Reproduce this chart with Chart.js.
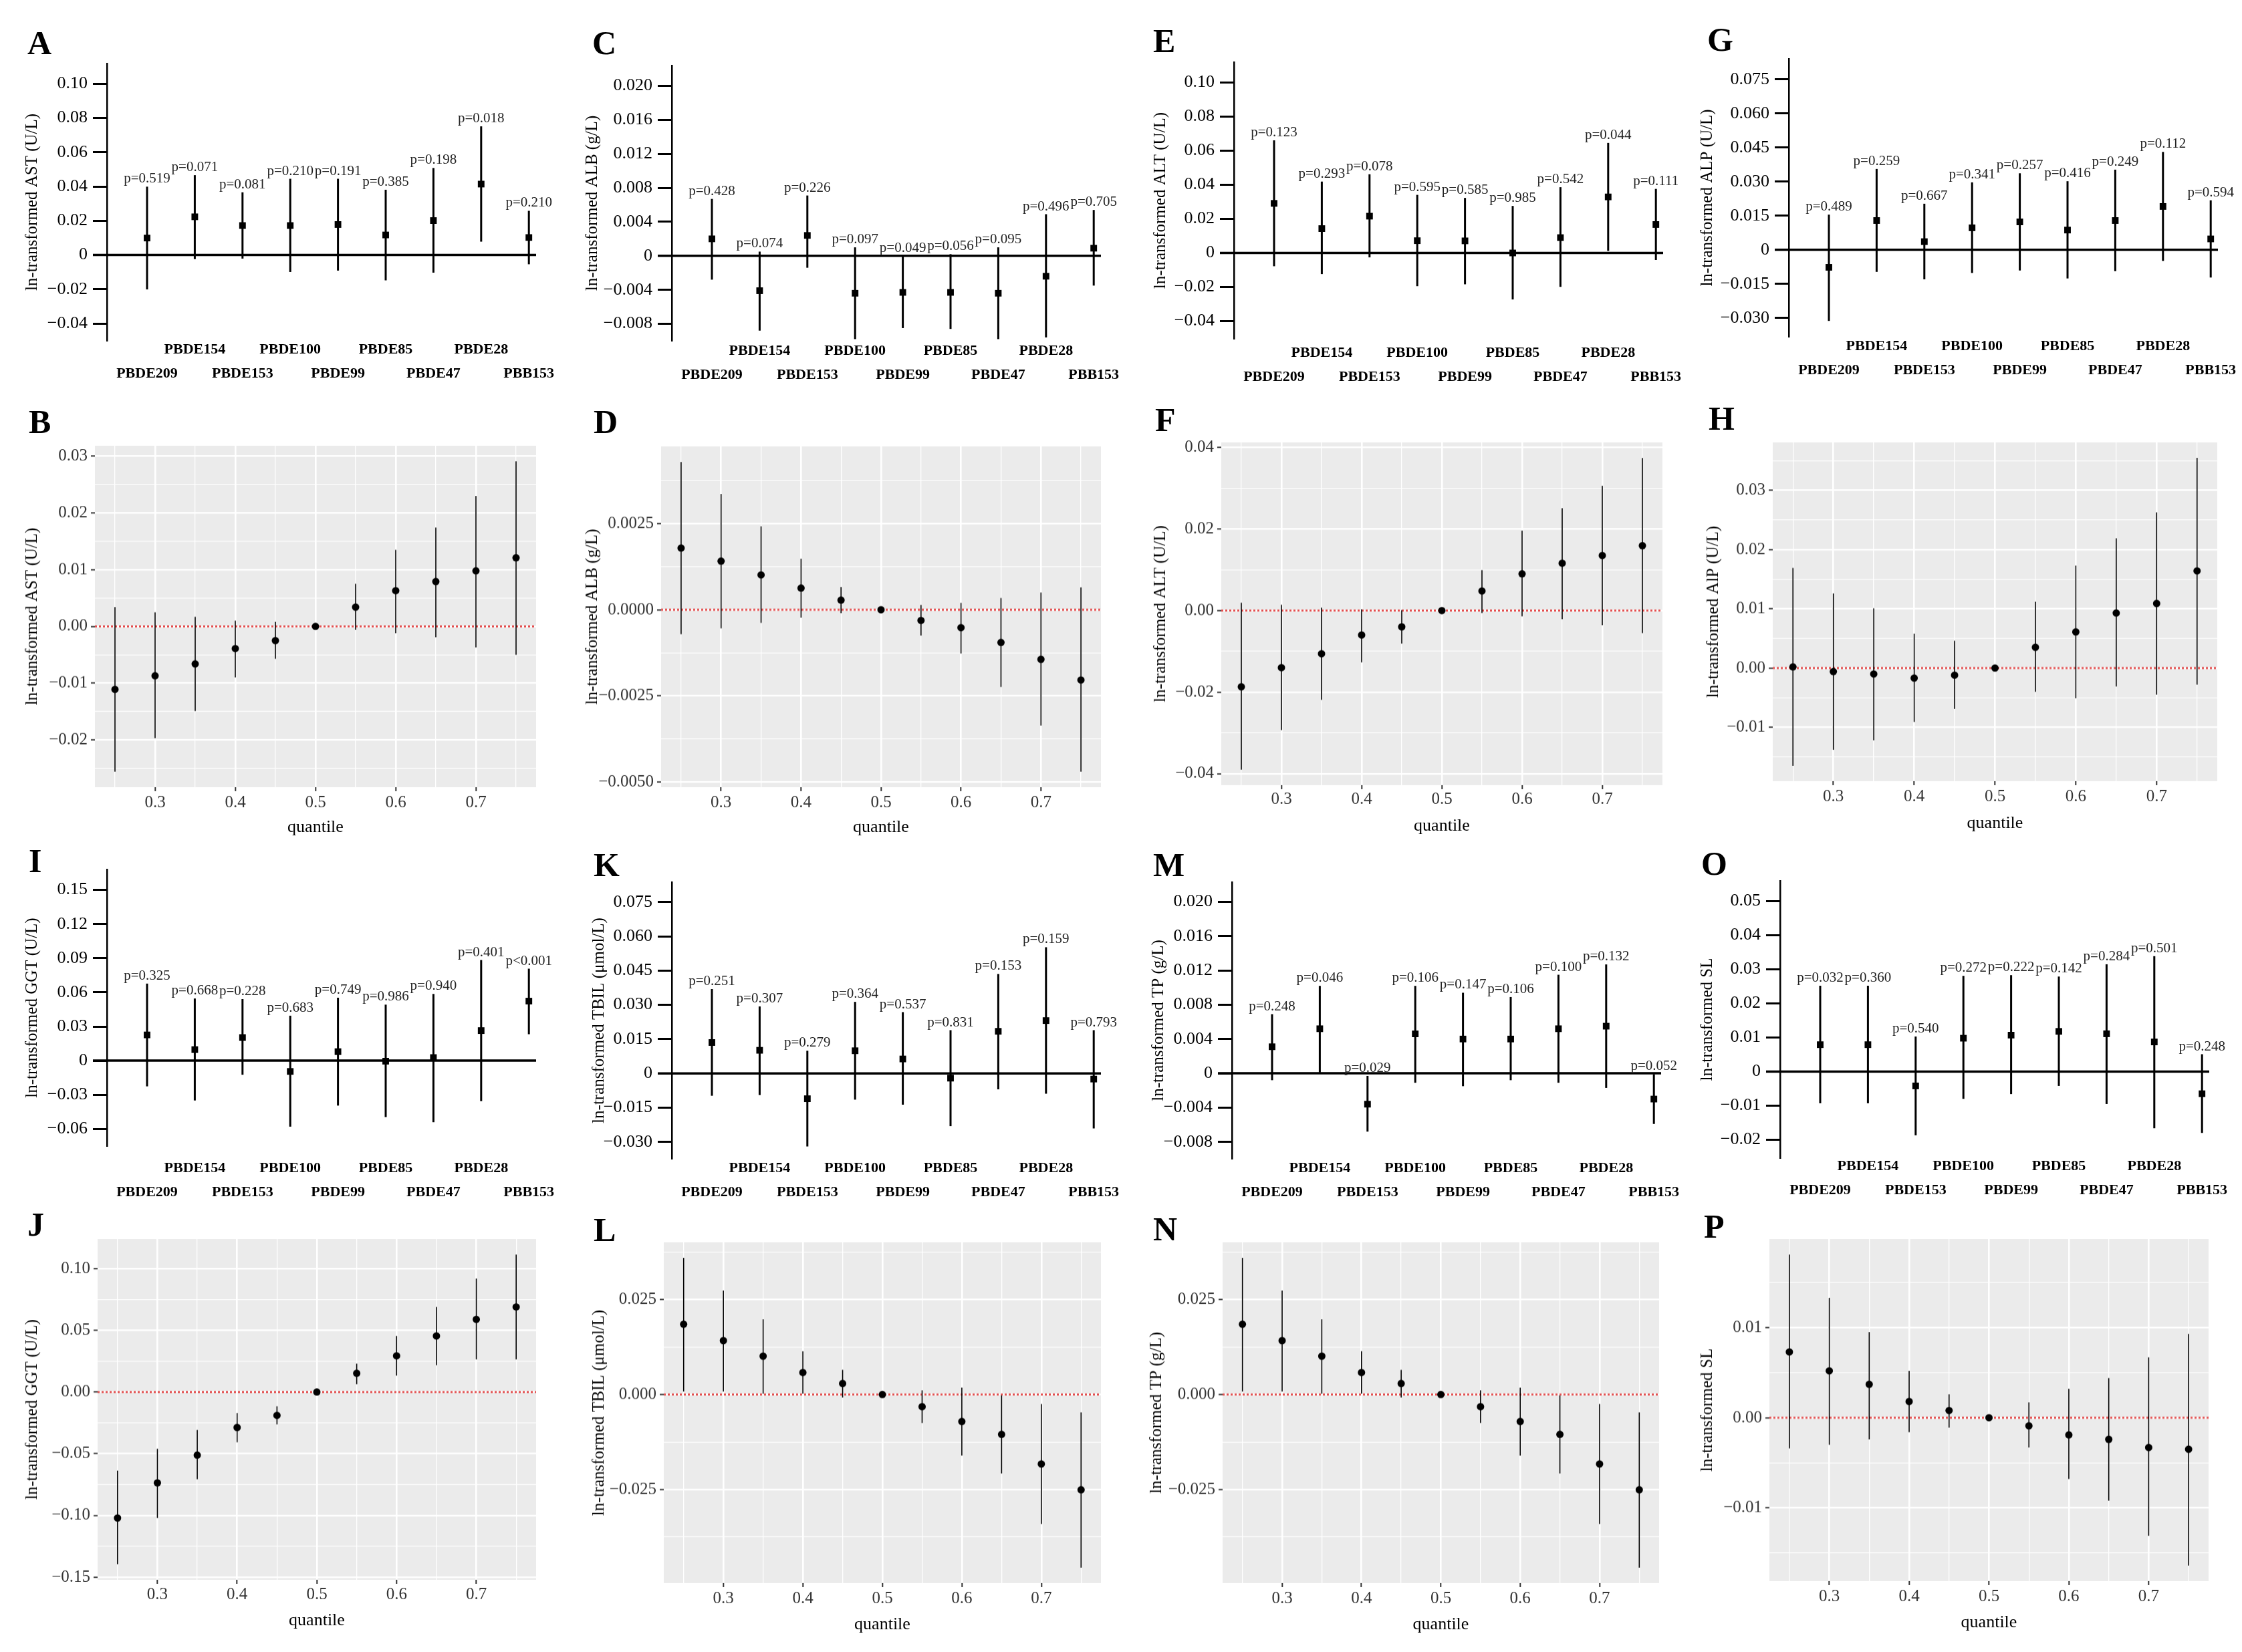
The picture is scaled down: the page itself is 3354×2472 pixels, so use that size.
<!DOCTYPE html>
<html lang="en">
<head>
<meta charset="UTF-8">
<title>PBDE exposure and liver function</title>
<script src="https://cdn.jsdelivr.net/npm/chart.js"></script>
<style>
  html, body { margin: 0; padding: 0; background: #fff; }
  body { width: 3354px; height: 2472px; position: relative; overflow: hidden;
         font-family: 'Liberation Serif', 'Times New Roman', serif; }
  .panel { position: absolute; }
  .letter { position: absolute; font-weight: bold; font-size: 50px; line-height: 50px; color: #000; }
</style>
</head>
<body>
<div id="figure"></div>
<script>
// ---------- data ----------
const compounds = ['PBDE209', 'PBDE154', 'PBDE153', 'PBDE100', 'PBDE99', 'PBDE85', 'PBDE47', 'PBDE28', 'PBB153'];
const quantiles = [0.25, 0.30, 0.35, 0.40, 0.45, 0.50, 0.55, 0.60, 0.65, 0.70, 0.75];
const quantileTicks = [0.3, 0.4, 0.5, 0.6, 0.7];
const quantileTickLabels = ['0.3', '0.4', '0.5', '0.6', '0.7'];

// single-exposure estimates (forest panels A C E G I K M O)
const astEst = [0.0099, 0.0223, 0.0172, 0.0172, 0.0178, 0.0117, 0.0201, 0.0414, 0.0102];
const astLo  = [-0.0201, -0.0024, -0.0021, -0.0099, -0.0091, -0.0148, -0.0103, 0.0078, -0.0054];
const astHi  = [0.0399, 0.0466, 0.0366, 0.0445, 0.0445, 0.0381, 0.0508, 0.0751, 0.0258];
const astP   = ['p=0.519', 'p=0.071', 'p=0.081', 'p=0.210', 'p=0.191', 'p=0.385', 'p=0.198', 'p=0.018', 'p=0.210'];
const astTicks = [-0.04, -0.02, 0, 0.02, 0.04, 0.06, 0.08, 0.10];
const astTickLabels = ['−0.04', '−0.02', '0', '0.02', '0.04', '0.06', '0.08', '0.10'];

const albEst = [0.0020, -0.0041, 0.0024, -0.0044, -0.0043, -0.0043, -0.0044, -0.0024, 0.0009];
const albLo  = [-0.0028, -0.0088, -0.0014, -0.0098, -0.0085, -0.0086, -0.0098, -0.0096, -0.0035];
const albHi  = [0.0067, 0.0005, 0.0071, 0.0010, 0.0000, 0.0002, 0.0010, 0.0049, 0.0054];
const albP   = ['p=0.428', 'p=0.074', 'p=0.226', 'p=0.097', 'p=0.049', 'p=0.056', 'p=0.095', 'p=0.496', 'p=0.705'];
const albTicks = [-0.008, -0.004, 0, 0.004, 0.008, 0.012, 0.016, 0.020];
const albTickLabels = ['−0.008', '−0.004', '0', '0.004', '0.008', '0.012', '0.016', '0.020'];

const altEst = [0.0291, 0.0143, 0.0216, 0.0072, 0.0071, 0.0000, 0.0090, 0.0329, 0.0167];
const altLo  = [-0.0078, -0.0124, -0.0026, -0.0195, -0.0184, -0.0273, -0.0199, 0.0012, -0.0041];
const altHi  = [0.0661, 0.0419, 0.0462, 0.0341, 0.0323, 0.0276, 0.0386, 0.0646, 0.0376];
const altP   = ['p=0.123', 'p=0.293', 'p=0.078', 'p=0.595', 'p=0.585', 'p=0.985', 'p=0.542', 'p=0.044', 'p=0.111'];
const altTicks = [-0.04, -0.02, 0, 0.02, 0.04, 0.06, 0.08, 0.10];
const altTickLabels = ['−0.04', '−0.02', '0', '0.02', '0.04', '0.06', '0.08', '0.10'];

const alpEst = [-0.0077, 0.0129, 0.0036, 0.0097, 0.0123, 0.0087, 0.0129, 0.0191, 0.0048];
const alpLo  = [-0.0313, -0.0097, -0.0130, -0.0102, -0.0091, -0.0126, -0.0094, -0.0049, -0.0122];
const alpHi  = [0.0155, 0.0356, 0.0203, 0.0297, 0.0337, 0.0302, 0.0353, 0.0431, 0.0218];
const alpP   = ['p=0.489', 'p=0.259', 'p=0.667', 'p=0.341', 'p=0.257', 'p=0.416', 'p=0.249', 'p=0.112', 'p=0.594'];
const alpTicks = [-0.030, -0.015, 0, 0.015, 0.030, 0.045, 0.060, 0.075];
const alpTickLabels = ['−0.030', '−0.015', '0', '0.015', '0.030', '0.045', '0.060', '0.075'];

const ggtEst = [0.0226, 0.0097, 0.0203, -0.0095, 0.0079, -0.0005, 0.0027, 0.0264, 0.0523];
const ggtLo  = [-0.0226, -0.0350, -0.0124, -0.0580, -0.0395, -0.0496, -0.0541, -0.0356, 0.0232];
const ggtHi  = [0.0677, 0.0546, 0.0541, 0.0395, 0.0553, 0.0492, 0.0586, 0.0884, 0.0808];
const ggtP   = ['p=0.325', 'p=0.668', 'p=0.228', 'p=0.683', 'p=0.749', 'p=0.986', 'p=0.940', 'p=0.401', 'p<0.001'];
const ggtTicks = [-0.06, -0.03, 0, 0.03, 0.06, 0.09, 0.12, 0.15];
const ggtTickLabels = ['−0.06', '−0.03', '0', '0.03', '0.06', '0.09', '0.12', '0.15'];

const tbilEst = [0.0135, 0.0101, -0.0111, 0.0099, 0.0063, -0.0021, 0.0184, 0.0231, -0.0025];
const tbilLo  = [-0.0098, -0.0095, -0.0320, -0.0115, -0.0137, -0.0231, -0.0070, -0.0089, -0.0241];
const tbilHi  = [0.0369, 0.0293, 0.0099, 0.0313, 0.0268, 0.0189, 0.0435, 0.0552, 0.0189];
const tbilP   = ['p=0.251', 'p=0.307', 'p=0.279', 'p=0.364', 'p=0.537', 'p=0.831', 'p=0.153', 'p=0.159', 'p=0.793'];
const tbilTicks = [-0.030, -0.015, 0, 0.015, 0.030, 0.045, 0.060, 0.075];
const tbilTickLabels = ['−0.030', '−0.015', '0', '0.015', '0.030', '0.045', '0.060', '0.075'];

const tpEst = [0.0031, 0.0052, -0.0036, 0.0046, 0.0040, 0.0040, 0.0052, 0.0055, -0.0030];
const tpLo  = [-0.0008, 0.0001, -0.0068, -0.0011, -0.0015, -0.0008, -0.0011, -0.0017, -0.0059];
const tpHi  = [0.0069, 0.0102, -0.0003, 0.0102, 0.0094, 0.0089, 0.0115, 0.0127, -0.0001];
const tpP   = ['p=0.248', 'p=0.046', 'p=0.029', 'p=0.106', 'p=0.147', 'p=0.106', 'p=0.100', 'p=0.132', 'p=0.052'];
const tpTicks = [-0.008, -0.004, 0, 0.004, 0.008, 0.012, 0.016, 0.020];
const tpTickLabels = ['−0.008', '−0.004', '0', '0.004', '0.008', '0.012', '0.016', '0.020'];

const slEst = [0.0079, 0.0079, -0.0042, 0.0098, 0.0107, 0.0118, 0.0111, 0.0087, -0.0065];
const slLo  = [-0.0093, -0.0093, -0.0187, -0.0080, -0.0066, -0.0042, -0.0095, -0.0166, -0.0180];
const slHi  = [0.0252, 0.0252, 0.0103, 0.0281, 0.0283, 0.0279, 0.0315, 0.0339, 0.0051];
const slP   = ['p=0.032', 'p=0.360', 'p=0.540', 'p=0.272', 'p=0.222', 'p=0.142', 'p=0.284', 'p=0.501', 'p=0.248'];
const slTicks = [-0.02, -0.01, 0, 0.01, 0.02, 0.03, 0.04, 0.05];
const slTickLabels = ['−0.02', '−0.01', '0', '0.01', '0.02', '0.03', '0.04', '0.05'];

// mixture quantile estimates (panels B D F H J L N P)
const astQEst = [-0.0111, -0.0087, -0.0066, -0.0039, -0.0025, 0, 0.0034, 0.0063, 0.0079, 0.0098, 0.0121];
const astQLo  = [-0.0256, -0.0197, -0.0149, -0.0090, -0.0057, 0, -0.0006, -0.0012, -0.0019, -0.0037, -0.0050];
const astQHi  = [0.0034, 0.0025, 0.0017, 0.0010, 0.0008, 0, 0.0075, 0.0135, 0.0174, 0.0230, 0.0291];
const astQTicks = [-0.02, -0.01, 0, 0.01, 0.02, 0.03];
const astQTickLabels = ['−0.02', '−0.01', '0.00', '0.01', '0.02', '0.03'];

const albQEst = [0.00179, 0.00141, 0.00101, 0.00063, 0.00028, 0, -0.00031, -0.00052, -0.00095, -0.00144, -0.00204];
const albQLo  = [-0.00071, -0.00054, -0.00038, -0.00023, -0.00010, 0, -0.00075, -0.00127, -0.00224, -0.00336, -0.00470];
const albQHi  = [0.00429, 0.00336, 0.00242, 0.00148, 0.00066, 0, 0.00014, 0.00020, 0.00034, 0.00050, 0.00065];
const albQTicks = [-0.005, -0.0025, 0, 0.0025];
const albQTickLabels = ['−0.0050', '−0.0025', '0.0000', '0.0025'];

const altQEst = [-0.0187, -0.0140, -0.0106, -0.0060, -0.0040, 0, 0.0048, 0.0090, 0.0116, 0.0135, 0.0159];
const altQLo  = [-0.0390, -0.0293, -0.0219, -0.0127, -0.0081, 0, -0.0006, -0.0014, -0.0021, -0.0036, -0.0055];
const altQHi  = [0.0019, 0.0014, 0.0007, 0.0003, 0.0001, 0, 0.0099, 0.0196, 0.0251, 0.0306, 0.0374];
const altQTicks = [-0.04, -0.02, 0, 0.02, 0.04];
const altQTickLabels = ['−0.04', '−0.02', '0.00', '0.02', '0.04'];

const alpQEst = [0.0002, -0.0006, -0.0010, -0.0017, -0.0012, 0, 0.0035, 0.0061, 0.0093, 0.0109, 0.0164];
const alpQLo  = [-0.0165, -0.0138, -0.0122, -0.0091, -0.0069, 0, -0.0040, -0.0051, -0.0031, -0.0045, -0.0028];
const alpQHi  = [0.0169, 0.0126, 0.0101, 0.0058, 0.0046, 0, 0.0112, 0.0173, 0.0219, 0.0263, 0.0355];
const alpQTicks = [-0.01, 0, 0.01, 0.02, 0.03];
const alpQTickLabels = ['−0.01', '0.00', '0.01', '0.02', '0.03'];

const ggtQEst = [-0.1021, -0.0736, -0.0511, -0.0287, -0.0189, 0, 0.0152, 0.0294, 0.0455, 0.0589, 0.0690];
const ggtQLo  = [-0.1396, -0.1021, -0.0706, -0.0407, -0.0262, 0, 0.0064, 0.0133, 0.0218, 0.0265, 0.0265];
const ggtQHi  = [-0.0637, -0.0460, -0.0308, -0.0170, -0.0115, 0, 0.0230, 0.0455, 0.0690, 0.0920, 0.1115];
const ggtQTicks = [-0.15, -0.10, -0.05, 0, 0.05, 0.10];
const ggtQTickLabels = ['−0.15', '−0.10', '−0.05', '0.00', '0.05', '0.10'];

const tbilQEst = [0.0185, 0.0142, 0.0101, 0.0058, 0.0029, 0, -0.0032, -0.0071, -0.0105, -0.0183, -0.0251];
const tbilQLo  = [0.0008, 0.0008, 0.0002, 0.0000, -0.0008, 0, -0.0075, -0.0161, -0.0208, -0.0341, -0.0456];
const tbilQHi  = [0.0360, 0.0274, 0.0198, 0.0114, 0.0065, 0, 0.0011, 0.0018, 0.0000, -0.0025, -0.0047];
const tbilQTicks = [-0.025, 0, 0.025];
const tbilQTickLabels = ['−0.025', '0.000', '0.025'];

const tpQEst = [0.0185, 0.0142, 0.0101, 0.0058, 0.0029, 0, -0.0032, -0.0071, -0.0105, -0.0183, -0.0251];
const tpQLo  = [0.0008, 0.0008, 0.0002, 0.0000, -0.0008, 0, -0.0075, -0.0161, -0.0208, -0.0341, -0.0456];
const tpQHi  = [0.0360, 0.0274, 0.0198, 0.0114, 0.0065, 0, 0.0011, 0.0018, 0.0000, -0.0025, -0.0047];
const tpQTicks = [-0.025, 0, 0.025];
const tpQTickLabels = ['−0.025', '0.000', '0.025'];

const slQEst = [0.0073, 0.0052, 0.0037, 0.0018, 0.0008, 0, -0.0009, -0.0019, -0.0024, -0.0033, -0.0035];
const slQLo  = [-0.0034, -0.0030, -0.0024, -0.0016, -0.0011, 0, -0.0033, -0.0068, -0.0092, -0.0131, -0.0164];
const slQHi  = [0.0181, 0.0133, 0.0095, 0.0052, 0.0026, 0, 0.0017, 0.0032, 0.0044, 0.0067, 0.0093];
const slQTicks = [-0.01, 0, 0.01];
const slQTickLabels = ['−0.01', '0.00', '0.01'];

// ---------- layout ----------
const PAGE_W = 3354;
const PAD_TOP = 20;
const PAD_RIGHT = 40;
const CAT_STEP = 71.4;      // px between compounds
const FIRST_OFFSET = 60;    // px from y axis to first compound
const P_GAP = 6;            // p label baseline above CI top

Chart.defaults.font.family = "'Liberation Serif', 'Times New Roman', serif";
Chart.defaults.color = '#000';

const forestPanels = [
  { title: 'ln-transformed AST (U/L)', est: astEst, lo: astLo, hi: astHi, p: astP, ticks: astTicks, tickLabels: astTickLabels,
    yMin: -0.0501, yMax: 0.1118, box: { l: 160, t: 95, r: 802, b: 510 }, titleX: 48, catY: 523 },
  { title: 'ln-transformed ALB (g/L)', est: albEst, lo: albLo, hi: albHi, p: albP, ticks: albTicks, tickLabels: albTickLabels,
    yMin: -0.0100, yMax: 0.0224, box: { l: 1005, t: 98, r: 1647, b: 510 }, titleX: 886, catY: 525 },
  { title: 'ln-transformed ALT (U/L)', est: altEst, lo: altLo, hi: altHi, p: altP, ticks: altTicks, tickLabels: altTickLabels,
    yMin: -0.0504, yMax: 0.1120, box: { l: 1846, t: 93, r: 2488, b: 507 }, titleX: 1736, catY: 528 },
  { title: 'ln-transformed ALP (U/L)', est: alpEst, lo: alpLo, hi: alpHi, p: alpP, ticks: alpTicks, tickLabels: alpTickLabels,
    yMin: -0.0383, yMax: 0.0841, box: { l: 2676, t: 88, r: 3318, b: 504 }, titleX: 2554, catY: 518 },
  { title: 'ln-transformed GGT (U/L)', est: ggtEst, lo: ggtLo, hi: ggtHi, p: ggtP, ticks: ggtTicks, tickLabels: ggtTickLabels,
    yMin: -0.0751, yMax: 0.1680, box: { l: 160, t: 1301, r: 802, b: 1715 }, titleX: 48, catY: 1748 },
  { title: 'ln-transformed TBIL (μmol/L)', est: tbilEst, lo: tbilLo, hi: tbilHi, p: tbilP, ticks: tbilTicks, tickLabels: tbilTickLabels,
    yMin: -0.0374, yMax: 0.0837, box: { l: 1005, t: 1320, r: 1647, b: 1734 }, titleX: 896, catY: 1748 },
  { title: 'ln-transformed TP (g/L)', est: tpEst, lo: tpLo, hi: tpHi, p: tpP, ticks: tpTicks, tickLabels: tpTickLabels,
    yMin: -0.00997, yMax: 0.0223, box: { l: 1843, t: 1320, r: 2485, b: 1734 }, titleX: 1733, catY: 1748 },
  { title: 'ln-transformed SL', est: slEst, lo: slLo, hi: slHi, p: slP, ticks: slTicks, tickLabels: slTickLabels,
    yMin: -0.0254, yMax: 0.0560, box: { l: 2663, t: 1318, r: 3305, b: 1733 }, titleX: 2554, catY: 1745 }
];

const quantilePanels = [
  { title: 'ln-transformed AST (U/L)', est: astQEst, lo: astQLo, hi: astQHi, ticks: astQTicks, tickLabels: astQTickLabels,
    box: { l: 142, t: 667, r: 802, b: 1177 }, titleX: 48, tickY: 1200, xTitleY: 1237 },
  { title: 'ln-transformed ALB (g/L)', est: albQEst, lo: albQLo, hi: albQHi, ticks: albQTicks, tickLabels: albQTickLabels,
    box: { l: 989, t: 668, r: 1647, b: 1177 }, titleX: 886, tickY: 1200, xTitleY: 1237 },
  { title: 'ln-transformed ALT (U/L)', est: altQEst, lo: altQLo, hi: altQHi, ticks: altQTicks, tickLabels: altQTickLabels,
    box: { l: 1827, t: 662, r: 2487, b: 1174 }, titleX: 1736, tickY: 1195, xTitleY: 1235 },
  { title: 'ln-transformed AlP (U/L)', est: alpQEst, lo: alpQLo, hi: alpQHi, ticks: alpQTicks, tickLabels: alpQTickLabels,
    box: { l: 2652, t: 662, r: 3317, b: 1168 }, titleX: 2563, tickY: 1191, xTitleY: 1231 },
  { title: 'ln-transformed GGT (U/L)', est: ggtQEst, lo: ggtQLo, hi: ggtQHi, ticks: ggtQTicks, tickLabels: ggtQTickLabels,
    box: { l: 146, t: 1854, r: 802, b: 2363 }, titleX: 48, tickY: 2385, xTitleY: 2424 },
  { title: 'ln-transformed TBIL (μmol/L)', est: tbilQEst, lo: tbilQLo, hi: tbilQHi, ticks: tbilQTicks, tickLabels: tbilQTickLabels,
    box: { l: 993, t: 1859, r: 1647, b: 2368 }, titleX: 896, tickY: 2391, xTitleY: 2430 },
  { title: 'ln-transformed TP (g/L)', est: tpQEst, lo: tpQLo, hi: tpQHi, ticks: tpQTicks, tickLabels: tpQTickLabels,
    box: { l: 1829, t: 1859, r: 2482, b: 2368 }, titleX: 1730, tickY: 2391, xTitleY: 2430 },
  { title: 'ln-transformed SL', est: slQEst, lo: slQLo, hi: slQHi, ticks: slQTicks, tickLabels: slQTickLabels,
    box: { l: 2647, t: 1854, r: 3304, b: 2365 }, titleX: 2554, tickY: 2388, xTitleY: 2427 }
];

// panel letters: [text, left, cap centre y]
const letters = [
  ['A', 41, 64], ['C', 886, 64], ['E', 1725, 61], ['G', 2554, 59],
  ['B', 43, 631], ['D', 888, 631], ['F', 1728, 628], ['H', 2556, 626],
  ['I', 43, 1288], ['K', 888, 1294], ['M', 1725, 1294], ['O', 2545, 1292],
  ['J', 41, 1832], ['L', 888, 1840], ['N', 1725, 1839], ['P', 2549, 1835]
];

const figure = document.getElementById('figure');

letters.forEach(([txt, x, cy]) => {
  const d = document.createElement('div');
  d.className = 'letter';
  d.textContent = txt;
  d.style.left = x + 'px';
  d.style.top = (cy - 25) + 'px';
  figure.appendChild(d);
});

// container sized so the chart area lands on box
function makeCanvas(box, titleX, xH) {
  const cl = titleX - 15;   // y title centre = left + lineHeight/2
  const ct = box.t - PAD_TOP;
  const cr = Math.min(box.r + PAD_RIGHT, PAGE_W);
  const div = document.createElement('div');
  div.className = 'panel';
  div.style.left = cl + 'px';
  div.style.top = ct + 'px';
  div.style.width = (cr - cl) + 'px';
  div.style.height = (box.b - ct + xH) + 'px';
  const canvas = document.createElement('canvas');
  div.appendChild(canvas);
  figure.appendChild(div);
  return { canvas, yW: box.l - cl, padRight: cr - box.r };
}

function forestChart(p) {
  const xH = 100;
  const { canvas, yW, padRight } = makeCanvas(p.box, p.titleX, xH);
  const idx = compounds.map((c, i) => i);
  const xMin = -FIRST_OFFSET / CAT_STEP;
  const xMax = xMin + (p.box.r - p.box.l) / CAT_STEP;

  const forestDecor = {
    id: 'forestDecor',
    beforeDatasetsDraw(chart) {
      const { ctx, chartArea, scales } = chart;
      const y0 = scales.y.getPixelForValue(0);
      ctx.save();
      ctx.strokeStyle = '#000';
      ctx.lineWidth = 3.5;
      ctx.beginPath();
      ctx.moveTo(chartArea.left - 21, y0);
      ctx.lineTo(chartArea.right, y0);
      ctx.stroke();
      ctx.restore();
    },
    afterDatasetsDraw(chart) {
      const { ctx, scales } = chart;
      ctx.save();
      ctx.font = "21px 'Liberation Serif', 'Times New Roman', serif";
      ctx.fillStyle = '#222';
      ctx.textAlign = 'center';
      ctx.textBaseline = 'alphabetic';
      p.p.forEach((txt, i) => {
        ctx.fillText(txt, scales.x.getPixelForValue(i), scales.y.getPixelForValue(p.hi[i]) - P_GAP);
      });
      ctx.restore();
    }
  };

  new Chart(canvas, {
    type: 'bar',
    data: {
      datasets: [
        { type: 'bar', data: idx.map(i => ({ x: i, y: [p.lo[i], p.hi[i]] })),
          backgroundColor: '#000', borderWidth: 0, barThickness: 3, inflateAmount: 0, grouped: false },
        { type: 'scatter', data: idx.map(i => ({ x: i, y: p.est[i] })),
          pointStyle: 'rect', radius: 7, backgroundColor: '#000', borderWidth: 0 }
      ]
    },
    options: {
      responsive: true,
      maintainAspectRatio: false,
      animation: false,
      layout: { padding: { top: PAD_TOP, right: padRight, left: 0, bottom: 0 } },
      plugins: { legend: { display: false }, tooltip: { enabled: false } },
      scales: {
        x: {
          type: 'linear', min: xMin, max: xMax, offset: false,
          grid: { display: false, drawTicks: false, offset: false },
          border: { display: false },
          afterBuildTicks: s => { s.ticks = idx.map(i => ({ value: i })); },
          afterFit: s => { s.height = xH; s.paddingLeft = 0; s.paddingRight = 0; },
          ticks: {
            autoSkip: false, maxRotation: 0, minRotation: 0,
            padding: p.catY - p.box.b - 18,
            color: '#000',
            font: { size: 22, weight: 'bold', lineHeight: 36 / 22 },
            callback: (v, i) => (i % 2 === 0 ? ['', compounds[i]] : [compounds[i]])
          }
        },
        y: {
          type: 'linear', min: p.yMin, max: p.yMax,
          grid: { drawOnChartArea: false, drawTicks: true, tickLength: 21, tickWidth: 3, tickColor: '#000' },
          border: { display: true, color: '#000', width: 2.5 },
          afterBuildTicks: s => { s.ticks = p.ticks.map(v => ({ value: v })); },
          afterFit: s => { s.width = yW; s.paddingTop = 0; s.paddingBottom = 0; },
          ticks: { autoSkip: false, padding: 8, color: '#000', font: { size: 26 },
                   callback: (v, i) => p.tickLabels[i] },
          title: { display: true, text: p.title, color: '#000', font: { size: 25 }, padding: 0 }
        }
      }
    },
    plugins: [forestDecor]
  });
}

// major + ggplot-style minor breaks within [lo, hi]
function withMinor(major, labels, lo, hi) {
  const out = major.map((v, i) => ({ value: v, major: true, text: labels[i] }));
  const step = major[1] - major[0];
  const mids = major.slice(0, -1).map((v, i) => (v + major[i + 1]) / 2);
  mids.push(major[0] - step / 2, major[major.length - 1] + step / 2);
  mids.filter(v => v >= lo && v <= hi).forEach(v => out.push({ value: v, major: false, text: '' }));
  return out.sort((a, b) => a.value - b.value);
}

function quantileChart(p) {
  const xH = p.xTitleY - p.box.b + 15.6;
  const { canvas, yW, padRight } = makeCanvas(p.box, p.titleX, xH);

  const loMin = Math.min(...p.lo), hiMax = Math.max(...p.hi);
  const yPad = (hiMax - loMin) * 0.05;
  const yMin = loMin - yPad, yMax = hiMax + yPad;
  const qPad = (quantiles[quantiles.length - 1] - quantiles[0]) * 0.05;
  const xMin = quantiles[0] - qPad, xMax = quantiles[quantiles.length - 1] + qPad;

  const yTicks = withMinor(p.ticks, p.tickLabels, yMin, yMax);
  const xTicks = withMinor(quantileTicks, quantileTickLabels, xMin, xMax);

  const gridStyle = {
    color: '#fff',
    lineWidth: c => (c.tick && c.tick.major ? 2.6 : 1.3),
    drawTicks: true,
    tickLength: 6,
    tickWidth: 2,
    tickColor: c => (c.tick && c.tick.major ? '#333' : 'rgba(0,0,0,0)'),
    offset: false
  };

  const panelDecor = {
    id: 'panelDecor',
    beforeDraw(chart) {
      const { ctx, chartArea: a } = chart;
      ctx.save();
      ctx.fillStyle = '#EBEBEB';
      ctx.fillRect(a.left, a.top, a.right - a.left, a.bottom - a.top);
      ctx.restore();
    },
    beforeDatasetsDraw(chart) {
      const { ctx, chartArea: a, scales } = chart;
      const y0 = scales.y.getPixelForValue(0);
      ctx.save();
      ctx.strokeStyle = 'rgba(224, 58, 58, 0.9)';
      ctx.lineWidth = 3;
      ctx.setLineDash([3, 3]);
      ctx.beginPath();
      ctx.moveTo(a.left, y0);
      ctx.lineTo(a.right, y0);
      ctx.stroke();
      ctx.restore();
    }
  };

  new Chart(canvas, {
    type: 'bar',
    data: {
      datasets: [
        { type: 'bar', data: quantiles.map((q, i) => ({ x: q, y: [p.lo[i], p.hi[i]] })),
          backgroundColor: '#000', borderWidth: 0, barThickness: 1.6, inflateAmount: 0, grouped: false },
        { type: 'scatter', data: quantiles.map((q, i) => ({ x: q, y: p.est[i] })),
          pointStyle: 'circle', radius: 5.5, backgroundColor: '#000', borderWidth: 0 }
      ]
    },
    options: {
      responsive: true,
      maintainAspectRatio: false,
      animation: false,
      layout: { padding: { top: PAD_TOP, right: padRight, left: 0, bottom: 0 } },
      plugins: { legend: { display: false }, tooltip: { enabled: false } },
      scales: {
        x: {
          type: 'linear', min: xMin, max: xMax, offset: false,
          grid: gridStyle,
          border: { display: false },
          afterBuildTicks: s => { s.ticks = xTicks.map(t => ({ ...t })); },
          afterFit: s => { s.height = xH; s.paddingLeft = 0; s.paddingRight = 0; },
          ticks: { autoSkip: false, maxRotation: 0, minRotation: 0, color: '#333', font: { size: 25 },
                   padding: p.tickY - p.box.b - 6 - 15,
                   callback: (v, i, t) => t[i].text },
          title: { display: true, text: 'quantile', color: '#000', font: { size: 26 }, padding: 0 }
        },
        y: {
          type: 'linear', min: yMin, max: yMax,
          grid: gridStyle,
          border: { display: false },
          afterBuildTicks: s => { s.ticks = yTicks.map(t => ({ ...t })); },
          afterFit: s => { s.width = yW; s.paddingTop = 0; s.paddingBottom = 0; },
          ticks: { autoSkip: false, padding: 5, color: '#333', font: { size: 25 },
                   callback: (v, i, t) => t[i].text },
          title: { display: true, text: p.title, color: '#000', font: { size: 25 }, padding: 0 }
        }
      }
    },
    plugins: [panelDecor]
  });
}

forestPanels.forEach(forestChart);
quantilePanels.forEach(quantileChart);
</script>
</body>
</html>
